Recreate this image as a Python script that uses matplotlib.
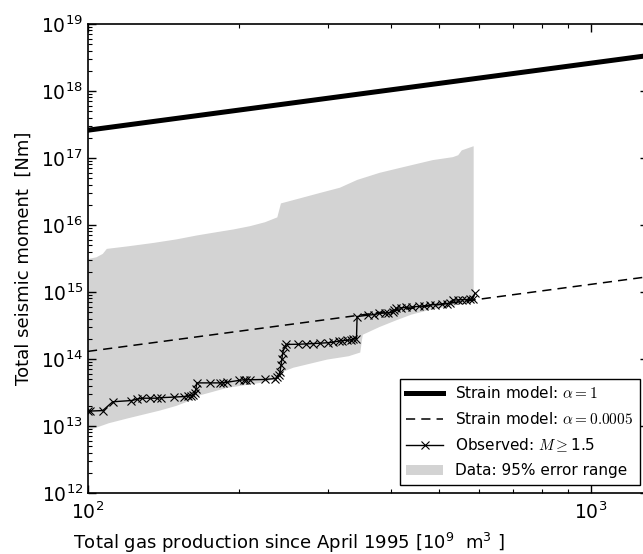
import numpy as np
import matplotlib
matplotlib.use('Agg')
import matplotlib.pyplot as plt

plt.rcParams['mathtext.fontset'] = 'cm'
plt.rcParams['font.family'] = 'DejaVu Sans'

# strain model: total moment proportional to produced volume
alpha_full = 1.0
alpha_fit = 0.0005
moment_per_volume = 2.6e15      # Nm per 10^9 m^3 at alpha = 1
model_volume = [100, 1300]

# observed cumulative moment, M >= 1.5
obs_volume = [100, 101, 107, 112, 122, 125, 128, 133, 137, 140, 148, 155, 158, 160,
              162, 163, 164, 164.5, 175, 183, 186, 189, 200, 204, 206, 210, 225, 235,
              238, 240, 241, 242, 243, 244, 246, 248, 262, 272, 280, 289, 300, 307,
              315, 320, 327, 333, 337, 342, 343, 360, 370, 380, 390, 395, 404, 407,
              410, 420, 430, 442, 455, 465, 478, 490, 505, 517, 525, 532, 545, 555,
              565, 575, 582, 588]
obs_moment = [1.65e13, 1.67e13, 1.7e13, 2.3e13, 2.4e13, 2.5e13, 2.6e13, 2.6e13, 2.6e13,
              2.65e13, 2.7e13, 2.75e13, 2.8e13, 2.85e13,
              2.9e13, 3.1e13, 3.6e13, 4.4e13, 4.4e13, 4.4e13, 4.45e13, 4.5e13, 4.8e13,
              4.9e13, 4.9e13, 4.9e13, 4.95e13, 5.1e13,
              5.3e13, 5.8e13, 6.5e13, 8e13, 1e14, 1.25e14, 1.5e14, 1.65e14, 1.66e14,
              1.68e14, 1.7e14, 1.72e14, 1.75e14, 1.78e14,
              1.85e14, 1.88e14, 1.9e14, 1.92e14, 2.0e14, 2.0e14, 4.3e14, 4.5e14, 4.6e14,
              4.8e14, 4.85e14, 4.9e14, 5.0e14, 5.3e14,
              5.7e14, 5.8e14, 5.9e14, 6.0e14, 6.1e14, 6.2e14, 6.4e14, 6.5e14, 6.6e14,
              6.7e14, 6.9e14, 7.6e14, 7.6e14, 7.7e14,
              7.7e14, 7.8e14, 7.9e14, 9.5e14]

# 95% error range of the data
upper_volume = [100, 104, 107, 109, 120, 135, 150, 165, 180, 195, 210, 225, 238, 242,
                264, 289, 317, 343, 380, 417, 485, 532, 545, 554, 585]
upper_moment = [3.1e15, 3.3e15, 3.7e15, 4.4e15, 4.8e15, 5.4e15, 6.1e15, 7e15, 7.8e15,
                8.6e15, 9.6e15, 1.1e16, 1.3e16, 2.1e16, 2.5e16, 3e16, 3.6e16, 4.7e16,
                6e16, 7.1e16, 9.3e16, 1.03e17, 1.1e17, 1.3e17, 1.5e17]
lower_volume = [100, 102, 110, 120, 139, 150, 162, 165, 189, 220, 241, 245, 256, 299,
                330, 348, 352, 380, 411, 440, 478, 542, 585]
lower_moment = [8.5e12, 9e12, 1.1e13, 1.3e13, 1.7e13, 2e13, 2.5e13, 2.8e13, 3.7e13,
                4.4e13, 5.2e13, 6.5e13, 7.4e13, 9.8e13, 1.1e14, 1.25e14, 2.3e14, 3e14,
                3.8e14, 4.6e14, 5.4e14, 6.4e14, 7.1e14]

fig = plt.figure(figsize=(6.43, 5.54), dpi=100)
ax = fig.add_axes([88/643, 61/554, 560/643, 469/554])

mv = np.array(model_volume, dtype=float)
ax.plot(mv, alpha_full*moment_per_volume*mv, 'k-', lw=3.6,
        label=r'Strain model: $\alpha = 1$')
ax.plot(mv, alpha_fit*moment_per_volume*mv, 'k--', lw=1.1, dashes=(6, 4),
        label=r'Strain model: $\alpha = 0.0005$')
ax.plot(obs_volume, obs_moment, 'k-x', lw=1.0, ms=5.5, mew=0.8,
        label=r'Observed: $M \geq$1.5')
ax.fill(np.r_[upper_volume, lower_volume[::-1]], np.r_[upper_moment, lower_moment[::-1]],
        color='lightgrey', lw=0, label='Data: 95% error range', zorder=0)

ax.set_xscale('log')
ax.set_yscale('log')
ax.set_xlim(100, 1300)
ax.set_ylim(1e12, 1e19)

ax.tick_params(which='both', direction='in', top=True, right=True, labelsize=13.5)
ax.tick_params(which='major', length=6, width=1)
ax.tick_params(which='minor', length=3, width=0.8)
ax.tick_params(axis='x', pad=6)
for s in ax.spines.values():
    s.set_linewidth(1.2)

ax.set_xlabel(r'Total gas production since April 1995 [$\mathdefault{10^9}$  m$\mathdefault{^3}$ ]',
              fontsize=13)
ax.xaxis.set_label_coords(0.359, -0.08)
ax.set_ylabel('Total seismic moment  [Nm]', fontsize=13, labelpad=6)

ax.legend(loc='lower right', fontsize=11, frameon=True, fancybox=False,
          edgecolor='black', framealpha=1, borderaxespad=0.55, handlelength=2.4,
          labelspacing=0.62, borderpad=0.4)

fig.savefig('out.png', dpi=100)
